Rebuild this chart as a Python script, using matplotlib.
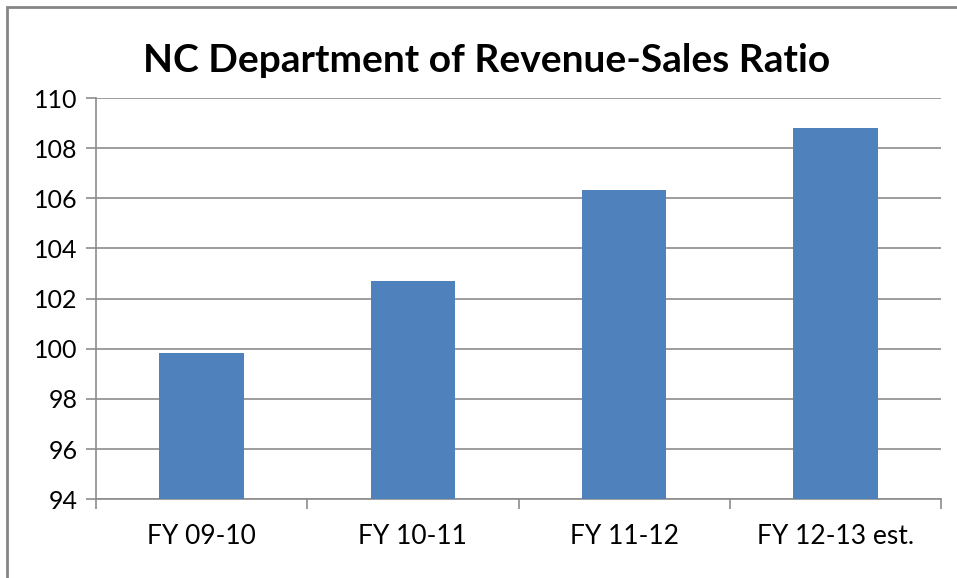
import numpy as np
import matplotlib.pyplot as plt
from matplotlib.patches import Rectangle

# Data
categories = ["FY 09-10", "FY 10-11", "FY 11-12", "FY 12-13 est."]
ratios = [99.85, 102.7, 106.35, 108.82]
y_ticks = [94, 96, 98, 100, 102, 104, 106, 108, 110]

plt.rcParams['font.family'] = ['Lato', 'DejaVu Sans']

fig = plt.figure(figsize=(9.57, 5.78), dpi=100)
ax = fig.add_axes([96 / 957, 1 - 499.3 / 578, 845 / 957, 401.3 / 578])

# Outer chart frame (only the top and left edges show in the reference)
fig.patches.append(Rectangle((7 / 957, -0.05), 1.1, 1 - 7 / 578 + 0.05,
                             transform=fig.transFigure, fill=False,
                             edgecolor='#868686', linewidth=2))

x = np.arange(len(categories))
ax.bar(x, ratios, width=0.4, color='#4F81BD', zorder=3)

ax.set_xlim(-0.5, len(categories) - 0.5)
ax.set_ylim(94, 110)
ax.set_yticks(y_ticks)
ax.set_yticklabels([str(t) for t in y_ticks], fontsize=18)
ax.yaxis.grid(True, color='#8c8c8c', linewidth=1.2, zorder=0)

# category labels centred, tick marks at category boundaries
ax.set_xticks(x)
ax.set_xticklabels(categories, fontsize=19)
ax.tick_params(axis='x', which='major', length=0, pad=18)
ax.set_xticks(np.arange(len(categories) + 1) - 0.5, minor=True)
ax.tick_params(axis='x', which='minor', length=7, color='#8c8c8c', width=1.2)
ax.tick_params(axis='y', length=7, color='#8c8c8c', width=1.2, pad=6)

for side in ['top', 'right']:
    ax.spines[side].set_visible(False)
ax.spines['left'].set_color('#8c8c8c')
ax.spines['left'].set_linewidth(1.2)
ax.spines['bottom'].set_color('#8c8c8c')
ax.spines['bottom'].set_linewidth(1.2)

fig.text(0.508, 1 - 60 / 578, "NC Department of Revenue-Sales Ratio",
         ha='center', va='center', fontsize=28, fontweight='bold')

fig.savefig("out.png", dpi=100)
